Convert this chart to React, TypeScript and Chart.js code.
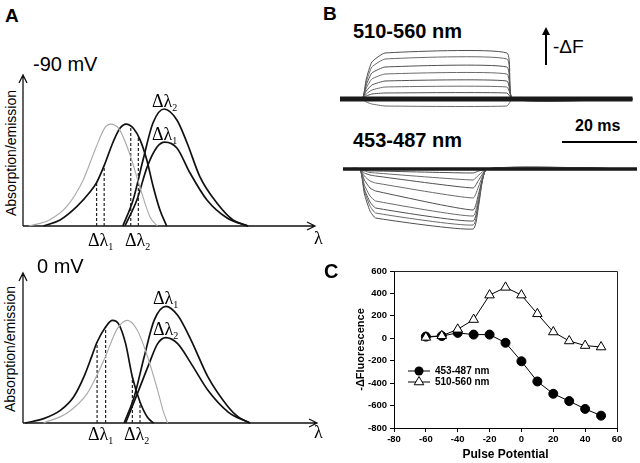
import React, { useEffect, useRef } from "react";
import { Chart, registerables } from "chart.js";
Chart.register(...registerables);

// ---------- Panel C data ----------
const pulsePotential = [-60, -50, -40, -30, -20, -10, 0, 10, 20, 30, 40, 50];
const fluo453_487 = [15, 20, 48, 33, 33, -40, -205, -385, -495, -560, -630, -690];
const fluo510_560 = [8, 22, 80, 167, 385, 454, 385, 218, 56, -24, -65, -78];
const xTickRange = [-80, 60];
const yTickRange = [-800, 600];
const seriesLabels = ["453-487 nm", "510-560 nm"];

// ---------- Panel A (-90 mV) schematic spectra (arbitrary units) ----------
const wlGrayNeg90 = [2, 9, 15, 20.5, 25, 28, 30, 33, 36.5, 40, 43.5, 46];
const absGrayNeg90 = [0, 0.04, 0.13, 0.3, 0.52, 0.65, 0.675, 0.64, 0.48, 0.26, 0.06, 0];
const wlBlackNeg90 = [7, 12.7, 18.4, 23, 25.2, 27.8, 30.9, 33.2, 35.3, 37.8, 40.1, 42.4, 44.6, 46.9, 49.2];
const absBlackNeg90 = [0, 0.04, 0.128, 0.227, 0.287, 0.4, 0.558, 0.647, 0.675, 0.647, 0.57, 0.437, 0.26, 0.106, 0];
const wlEmTallNeg90 = [34.2, 37.7, 41.1, 44.5, 48.3, 52.7, 56.2, 60.6, 66.4, 71.9, 77.1];
const emTallNeg90 = [0, 0.172, 0.437, 0.682, 0.775, 0.702, 0.55, 0.325, 0.152, 0.04, 0];
const wlEmShortNeg90 = [34.9, 39, 42.5, 45.9, 48.6, 52.7, 57.2, 63, 69.9, 77.1];
const emShortNeg90 = [0, 0.172, 0.39, 0.523, 0.556, 0.517, 0.351, 0.172, 0.053, 0];
const dashWlNeg90 = [25.2, 27.8, 36.9, 39.5];
const dashTopNeg90 = [0.287, 0.4, 0.66, 0.59];

// ---------- Panel A (0 mV) ----------
const wlBlack0 = [0.7, 7, 12.7, 17.2, 20.7, 23.5, 25.2, 28.1, 30.4, 32.6, 34.9, 37.2, 39.8, 42.4, 44.4];
const absBlack0 = [0, 0.029, 0.084, 0.173, 0.307, 0.451, 0.54, 0.64, 0.684, 0.658, 0.529, 0.307, 0.14, 0.036, 0];
const wlGray0 = [7, 15, 21.8, 27.5, 32.1, 35.5, 38.9, 42.4, 45.8, 47.8, 49.2];
const absGray0 = [0, 0.067, 0.196, 0.418, 0.629, 0.684, 0.618, 0.44, 0.218, 0.073, 0];
const wlEmTall0 = [34.4, 37.8, 41.2, 44.6, 48.6, 52.6, 57.2, 62.9, 69.8, 73.2, 77.2];
const emTall0 = [0, 0.173, 0.44, 0.684, 0.778, 0.718, 0.551, 0.307, 0.107, 0.04, 0];
const wlEmShort0 = [34.9, 38.9, 42.9, 45.8, 48.6, 52.6, 57.2, 62.9, 69.8, 77.2];
const emShort0 = [0, 0.196, 0.396, 0.529, 0.569, 0.529, 0.396, 0.218, 0.073, 0];
const dashWl0 = [25.2, 28.1, 37.2, 39.8];
const dashTop0 = [0.54, 0.64, 0.307, 0.14];

// ---------- Panel B traces (ms, arbitrary -ΔF units) ----------
const tBaseTop = [0, 78];
const tTop = [0, 5.9, 7, 8.5, 12, 44.5, 46, 78];
const topTraces = [
  [0, 0, 20, 37, 46, 46, 0, 0],
  [0, 0, 17, 32, 40, 40, 0, 0],
  [0, 0, 14, 26, 32, 32, 0, 0],
  [0, 0, 11, 20, 25, 25, 0, 0],
  [0, 0, 8, 14, 18, 18, 0, 0],
  [0, 0, 5, 9, 12, 12, 0, 0],
  [0, 0, 3, 5, 6, 6, 0, 0],
  [0, 0, -3, -5, -7, -7, 0, 0],
];
const tBaseBot = [0.8, 79.2];
const tBot = [0.8, 5.3, 6.5, 8, 9.5, 35.5, 37, 39.2, 79.2];
const botTraces = [
  [0, 0, -1, -2, -2, -4, -2, 0, 0],
  [0, 0, -2, -3.5, -4, -11, -6, 0, 0],
  [0, 0, -4, -6, -7, -19, -11, 0, 0],
  [0, 0, -7, -12, -14, -29, -17, 0, 0],
  [0, 0, -11, -19, -22, -41, -24, 0, 0],
  [0, 0, -16, -27, -32, -47, -28, 0, 0],
  [0, 0, -20, -33, -39, -52, -31, 0, 0],
  [0, 0, -22, -37, -44, -56, -33, 0, 0],
  [0, 0, -25, -42, -49, -60, -36, 0, 0],
];

const SANS = '"Liberation Sans", Arial, Helvetica, sans-serif';
const SERIF = '"Liberation Serif", "Times New Roman", serif';

const zip = (xs: number[], ys: number[]) => xs.map((x, i) => ({ x, y: ys[i] }));

function ChartCanvas({ left, top, width, height, make }: any) {
  const ref = useRef<HTMLCanvasElement>(null);
  useEffect(() => {
    const chart = new Chart(ref.current as HTMLCanvasElement, make());
    return () => chart.destroy();
  }, []);
  return (
    <canvas
      ref={ref}
      width={width}
      height={height}
      style={{ position: "absolute", left, top, width, height }}
    />
  );
}

// ---------- Panel A configs ----------
const arrowAxes = {
  id: "arrowAxes",
  beforeDatasetsDraw(chart: any) {
    const { ctx, chartArea } = chart;
    const { left, right, top, bottom } = chartArea;
    ctx.save();
    ctx.strokeStyle = "#111";
    ctx.lineWidth = 1.3;
    ctx.beginPath();
    ctx.moveTo(left, bottom);
    ctx.lineTo(right, bottom);
    ctx.moveTo(left, bottom);
    ctx.lineTo(left, top);
    ctx.moveTo(right - 8, bottom - 4);
    ctx.lineTo(right, bottom);
    ctx.lineTo(right - 8, bottom + 4);
    ctx.moveTo(left - 4, top + 8);
    ctx.lineTo(left, top);
    ctx.lineTo(left + 4, top + 8);
    ctx.stroke();
    ctx.restore();
  },
};

function schematic(
  gray: any[],
  black: any[],
  emA: any[],
  emB: any[],
  dashX: number[],
  dashY: number[],
  padding: any
) {
  const curve = (data: any[], color: string, w: number) => ({
    data,
    borderColor: color,
    borderWidth: w,
    pointRadius: 0,
    cubicInterpolationMode: "monotone",
    fill: false,
    clip: false,
  });
  const dashes = dashX.map((x, i) => ({
    data: [
      { x, y: 0 },
      { x, y: dashY[i] },
    ],
    borderColor: "#222",
    borderWidth: 1.2,
    borderDash: [3, 2],
    pointRadius: 0,
    clip: false,
  }));
  return {
    type: "line",
    data: {
      datasets: [
        curve(gray, "#a9a9a9", 1.1),
        curve(black, "#111", 1.7),
        curve(emA, "#111", 1.7),
        curve(emB, "#111", 1.7),
        ...dashes,
      ],
    },
    options: {
      animation: false,
      responsive: false,
      layout: { padding },
      plugins: { legend: { display: false }, tooltip: { enabled: false } },
      scales: {
        x: { type: "linear", min: 0, max: 100, display: false },
        y: { type: "linear", min: 0, max: 1, display: false },
      },
    },
    plugins: [arrowAxes],
  };
}

// ---------- Panel B configs ----------
function traces(tBase: number[], t: number[], rows: number[][], yMin: number, yMax: number, baseW: number) {
  return {
    type: "line",
    data: {
      datasets: [
        {
          data: zip(tBase, tBase.map(() => 0)),
          borderColor: "#1a1a1a",
          borderWidth: baseW,
          pointRadius: 0,
          order: 0,
        },
        ...rows.map((r, i) => ({
          data: zip(t, r),
          borderColor: i % 2 ? "#6a6a6a" : "#505050",
          borderWidth: 1,
          pointRadius: 0,
          tension: 0.15,
          order: 1,
        })),
      ],
    },
    options: {
      animation: false,
      responsive: false,
      layout: { padding: { left: 10, right: 0, top: 0, bottom: 0 } },
      plugins: { legend: { display: false }, tooltip: { enabled: false } },
      scales: {
        x: { type: "linear", min: 0, max: 80, display: false },
        y: { type: "linear", min: yMin, max: yMax, display: false },
      },
    },
  };
}

// ---------- Panel C config ----------
const legendAndFrame = {
  id: "legendAndFrame",
  afterDraw(chart: any) {
    const { ctx, chartArea } = chart;
    ctx.save();
    // top and right frame lines of the plot box
    ctx.strokeStyle = "#222";
    ctx.lineWidth = 1;
    ctx.beginPath();
    ctx.moveTo(chartArea.left, chartArea.top + 0.5);
    ctx.lineTo(chartArea.right + 0.5, chartArea.top + 0.5);
    ctx.lineTo(chartArea.right + 0.5, chartArea.bottom);
    ctx.stroke();

    const x0 = chartArea.left + 14;
    const rows = [
      { y: chartArea.top + 100, label: seriesLabels[0], tri: false },
      { y: chartArea.top + 111, label: seriesLabels[1], tri: true },
    ];
    ctx.strokeStyle = "#000";
    ctx.font = `bold 10px ${SANS}`;
    ctx.textBaseline = "middle";
    ctx.textAlign = "left";
    rows.forEach((r) => {
      ctx.beginPath();
      ctx.moveTo(x0, r.y);
      ctx.lineTo(x0 + 22, r.y);
      ctx.stroke();
      const cx = x0 + 11;
      ctx.beginPath();
      if (r.tri) {
        const rad = 5.5;
        ctx.moveTo(cx, r.y - rad);
        ctx.lineTo(cx + rad * 0.866, r.y + rad * 0.5);
        ctx.lineTo(cx - rad * 0.866, r.y + rad * 0.5);
        ctx.closePath();
        ctx.fillStyle = "#fff";
        ctx.fill();
        ctx.stroke();
      } else {
        ctx.arc(cx, r.y, 4.5, 0, Math.PI * 2);
        ctx.fillStyle = "#000";
        ctx.fill();
      }
      ctx.fillStyle = "#000";
      ctx.fillText(r.label, x0 + 27, r.y);
    });
    ctx.restore();
  },
};

function makeC() {
  const tickFont = { family: SANS, size: 9.5, weight: "bold" };
  return {
    type: "line",
    data: {
      datasets: [
        {
          label: seriesLabels[1],
          data: zip(pulsePotential, fluo510_560),
          borderColor: "#000",
          borderWidth: 1,
          pointStyle: "triangle",
          pointRadius: 5.5,
          pointBackgroundColor: "#fff",
          pointBorderColor: "#000",
          pointBorderWidth: 1,
          order: 0,
        },
        {
          label: seriesLabels[0],
          data: zip(pulsePotential, fluo453_487),
          borderColor: "#000",
          borderWidth: 1,
          pointStyle: "circle",
          pointRadius: 4.5,
          pointBackgroundColor: "#000",
          pointBorderColor: "#000",
          order: 1,
        },
      ],
    },
    options: {
      animation: false,
      responsive: false,
      layout: { padding: { left: 0, right: 23, top: 9, bottom: 0 } },
      plugins: { legend: { display: false }, tooltip: { enabled: false } },
      scales: {
        x: {
          type: "linear",
          position: "bottom",
          min: xTickRange[0],
          max: xTickRange[1],
          ticks: { stepSize: 20, color: "#000", font: tickFont, padding: 2, maxRotation: 0 },
          grid: { drawOnChartArea: false, drawTicks: true, tickLength: 4, color: "#000", lineWidth: 1 },
          border: { display: true, color: "#000", width: 1 },
          title: {
            display: true,
            text: "Pulse Potential",
            color: "#000",
            font: { family: SANS, size: 12, weight: "bold" },
            padding: { top: 0, bottom: 1 },
          },
          afterFit: (s: any) => {
            s.height = 35;
          },
        },
        y: {
          type: "linear",
          position: "left",
          min: yTickRange[0],
          max: yTickRange[1],
          ticks: { stepSize: 200, color: "#000", font: tickFont, padding: 3 },
          grid: { drawOnChartArea: false, drawTicks: true, tickLength: 4, color: "#000", lineWidth: 1 },
          border: { display: true, color: "#000", width: 1 },
          title: {
            display: true,
            text: "-ΔFluorescence",
            color: "#000",
            font: { family: SANS, size: 11, weight: "bold" },
            padding: { top: 34, bottom: 0 },
          },
          afterFit: (s: any) => {
            s.width = 74;
          },
        },
      },
    },
    plugins: [legendAndFrame],
  };
}

const abs = (style: any): any => ({ position: "absolute", lineHeight: 1, whiteSpace: "nowrap", ...style });

function DL({ left, top, sub }: any) {
  return (
    <div style={abs({ left, top, fontFamily: SERIF, fontSize: 18 })}>
      Δλ<span style={{ fontSize: 10, position: "relative", top: 4 }}>{sub}</span>
    </div>
  );
}

export default function App() {
  return (
    <div
      style={{
        position: "absolute",
        left: 0,
        top: 0,
        width: 640,
        height: 463,
        background: "#fff",
        overflow: "hidden",
        fontFamily: SANS,
        color: "#000",
      }}
    >
      {/* Panel A */}
      <div style={abs({ left: 5, top: 6, fontSize: 19, fontWeight: "bold" })}>A</div>
      <div style={abs({ left: 33, top: 54, fontSize: 20 })}>-90 mV</div>
      <div style={abs({ left: 11, top: 153, fontSize: 14, transform: "translate(-50%,-50%) rotate(-90deg)" })}>
        Absorption/emission
      </div>
      <ChartCanvas
        left={0}
        top={60}
        width={322}
        height={185}
        make={() =>
          schematic(
            zip(wlGrayNeg90, absGrayNeg90),
            zip(wlBlackNeg90, absBlackNeg90),
            zip(wlEmTallNeg90, emTallNeg90),
            zip(wlEmShortNeg90, emShortNeg90),
            dashWlNeg90,
            dashTopNeg90,
            { left: 23, right: 7, top: 15, bottom: 19 }
          )
        }
      />
      <DL left={152} top={92} sub="2" />
      <DL left={152} top={125} sub="1" />
      <DL left={88} top={231} sub="1" />
      <DL left={125} top={231} sub="2" />
      <div style={abs({ left: 314, top: 229, fontFamily: SERIF, fontSize: 18 })}>λ</div>

      <div style={abs({ left: 37, top: 256, fontSize: 20 })}>0 mV</div>
      <div style={abs({ left: 10, top: 349, fontSize: 14, transform: "translate(-50%,-50%) rotate(-90deg)" })}>
        Absorption/emission
      </div>
      <ChartCanvas
        left={0}
        top={258}
        width={322}
        height={185}
        make={() =>
          schematic(
            zip(wlGray0, absGray0),
            zip(wlBlack0, absBlack0),
            zip(wlEmTall0, emTall0),
            zip(wlEmShort0, emShort0),
            dashWl0,
            dashTop0,
            { left: 23, right: 5, top: 15, bottom: 20 }
          )
        }
      />
      <DL left={153} top={289} sub="1" />
      <DL left={153} top={320} sub="2" />
      <DL left={88} top={425} sub="1" />
      <DL left={124} top={425} sub="2" />
      <div style={abs({ left: 314, top: 423, fontFamily: SERIF, fontSize: 18 })}>λ</div>

      {/* Panel B */}
      <div style={abs({ left: 323, top: 4, fontSize: 19, fontWeight: "bold" })}>B</div>
      <div style={abs({ left: 353, top: 21, fontSize: 20, fontWeight: "bold" })}>510-560 nm</div>
      <div style={abs({ left: 353, top: 130, fontSize: 20, fontWeight: "bold" })}>453-487 nm</div>
      <div style={abs({ left: 545, top: 33, width: 2, height: 32, background: "#000" })} />
      <div
        style={abs({
          left: 542,
          top: 27,
          width: 0,
          height: 0,
          borderLeft: "4px solid transparent",
          borderRight: "4px solid transparent",
          borderBottom: "8px solid #000",
        })}
      />
      <div style={abs({ left: 553, top: 37, fontSize: 19 })}>-ΔF</div>
      <div style={abs({ left: 575, top: 118, fontSize: 16, fontWeight: "bold" })}>20 ms</div>
      <div style={abs({ left: 562, top: 141, width: 75, height: 2, background: "#000" })} />
      <ChartCanvas
        left={330}
        top={40}
        width={310}
        height={80}
        make={() => traces(tBaseTop, tTop, topTraces, -21, 59, 5)}
      />
      <ChartCanvas
        left={330}
        top={145}
        width={310}
        height={95}
        make={() => traces(tBaseBot, tBot, botTraces, -71, 24, 3.5)}
      />

      {/* Panel C */}
      <div style={abs({ left: 324, top: 261, fontSize: 20, fontWeight: "bold" })}>C</div>
      <ChartCanvas left={320} top={262} width={320} height={201} make={makeC} />
    </div>
  );
}
